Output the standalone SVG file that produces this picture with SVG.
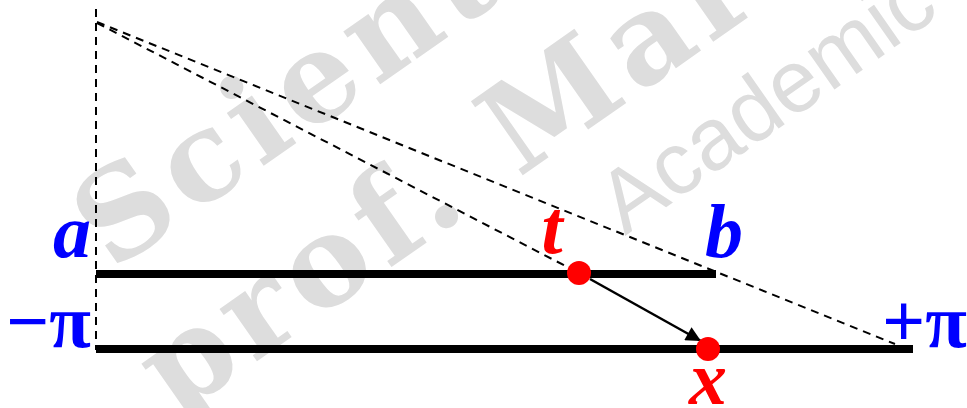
<svg xmlns="http://www.w3.org/2000/svg" width="967" height="408" viewBox="0 0 967 408">
<style>
.wm{fill:#dddddd;font-family:"DejaVu Serif",serif;font-weight:900;font-size:124px;letter-spacing:8px}
.wm2{fill:#dddddd;font-family:"Liberation Sans",Arial,sans-serif;font-size:88px}
.lbl{font-family:"Liberation Serif","Times New Roman",serif;font-weight:bold;font-style:italic;font-size:76px}
.sym{font-family:"Liberation Serif","Times New Roman",serif;font-weight:bold;font-size:76px}
.blue{fill:#0000ff}
.red{fill:#ff0000}
.dash{stroke:#000;stroke-width:2;stroke-dasharray:8 6;fill:none}
.bar{stroke:#000;stroke-width:8}
</style>
<defs>
<marker id="ah" viewBox="0 0 10 10" refX="10" refY="5" markerWidth="7" markerHeight="6" orient="auto" markerUnits="strokeWidth">
<path d="M0,0 L10,5 L0,10 z" fill="#000"/>
</marker>
</defs>
<rect width="967" height="408" fill="#fff"/>
<g id="watermark">
<text class="wm" transform="translate(112,272) rotate(-35)">Scienti</text>
<text class="wm" transform="translate(176,418) rotate(-35)">prof. Mar</text>
<text class="wm2" transform="translate(625,236) rotate(-35)">Academic</text>
</g>
<g id="connectors">
<line class="dash" x1="96" y1="9" x2="96" y2="350"/>
<line class="dash" x1="97" y1="22" x2="895" y2="344"/>
<line class="dash" x1="97" y1="23" x2="579" y2="273"/>
<line x1="590" y1="279" x2="701" y2="341" stroke="#000" stroke-width="2.5" marker-end="url(#ah)"/>
</g>
<g id="bar-ab">
<line class="bar" x1="96" y1="274" x2="716" y2="274"/>
</g>
<g id="bar-pi">
<line class="bar" x1="96" y1="349" x2="913" y2="349"/>
</g>
<g id="point-t">
<circle cx="579" cy="273" r="12" class="red"/>
<text class="lbl red" x="552" y="253" text-anchor="middle">t</text>
</g>
<g id="point-x">
<circle cx="708" cy="349" r="12" class="red"/>
<text class="lbl red" x="708" y="404" text-anchor="middle">x</text>
</g>
<g id="label-a"><text class="lbl blue" x="91" y="257" text-anchor="end">a</text></g>
<g id="label-b"><text class="lbl blue" x="724" y="257" text-anchor="middle">b</text></g>
<g id="label-minus-pi"><text class="sym blue" x="91" y="347" text-anchor="end">−π</text></g>
<g id="label-plus-pi"><text class="sym blue" x="967" y="347" text-anchor="end">+π</text></g>
</svg>
